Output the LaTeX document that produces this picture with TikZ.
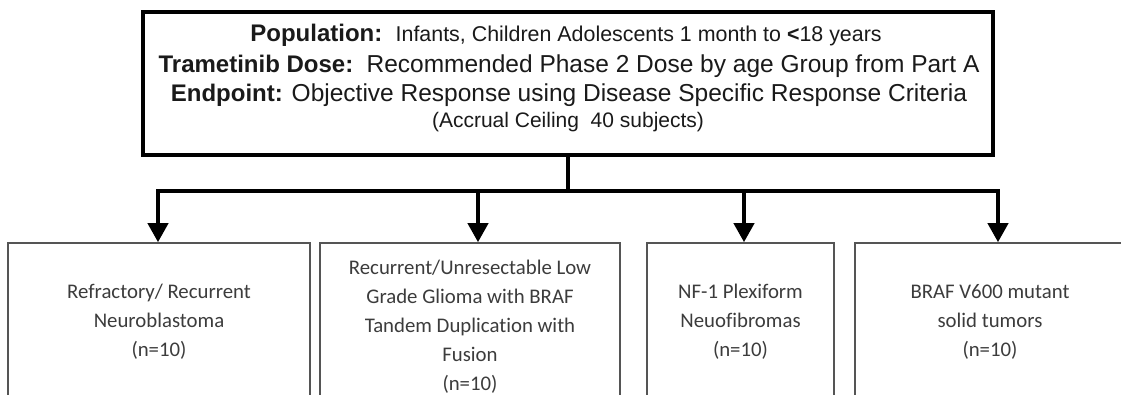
\documentclass[tikz,border=0pt]{standalone}
\usepackage{fontspec}
\setmainfont{Liberation Sans}
\newfontfamily\calibrifont[Ligatures={NoCommon}]{Carlito}
\usetikzlibrary{arrows.meta}
\definecolor{toptext}{HTML}{1A1A1A}
\definecolor{boxtext}{HTML}{3C3C3C}
\definecolor{boxline}{HTML}{555555}
\tikzset{
  topbox/.style={draw=black, line width=3.5pt, fill=white, minimum width=850pt, minimum height=143pt, inner sep=0pt},
  line/.style={text=toptext, anchor=base, inner sep=0pt},
  armbox/.style={draw=boxline, line width=1.6pt, fill=white, minimum height=157pt, inner sep=0pt,
    align=center, text=boxtext, font=\calibrifont\fontsize{20.8}{29}\selectfont},
  conn/.style={line width=4.5pt, black},
  arr/.style={line width=4pt, black, -{Triangle[width=20pt,length=19pt]}},
}
\begin{document}
\begin{tikzpicture}[x=1pt,y=-1pt]
\clip (0,0) rectangle (1121,394);
\fill[white] (0,0) rectangle (1121,394);
% top box
\node[topbox] (top) at (568,83.5) {};
\node[line] (l1) at (566,41) {\fontsize{24}{30}\selectfont\textbf{Population:}\ \ \fontsize{21.4}{30}\selectfont Infants, Children Adolescents 1 month to \textbf{<}18 years};
\node[line] (l2) at (569,72) {\fontsize{24}{30}\selectfont\textbf{Trametinib Dose:}\ \ \fontsize{24.5}{30}\selectfont Recommended Phase 2 Dose by age Group from Part A};
\node[line] (l3) at (569,101) {\fontsize{24}{30}\selectfont\textbf{Endpoint:} \fontsize{24.5}{30}\selectfont Objective Response using Disease Specific Response Criteria};
\node[line] (l4) at (568,127) {\fontsize{21}{26}\selectfont (Accrual Ceiling\ \ 40 subjects)};
% arm boxes
\node[armbox, minimum width=302pt] (b1) at (159,321.5) {Refractory/ Recurrent\\Neuroblastoma\\(n=10)};
\node[armbox, minimum width=300pt, minimum height=167pt] (b2) at (470,326.5) {Recurrent/Unresectable Low\\Grade Glioma with BRAF\\Tandem Duplication with\\Fusion\\(n=10)};
\node[armbox, minimum width=187pt] (b3) at (740.5,321.5) {NF-1 Plexiform\\Neuofibromas\\(n=10)};
\node[armbox, minimum width=270pt] (b4) at (990,321.5) {BRAF V600 mutant\\solid tumors\\(n=10)};
% connectors
\coordinate (bar) at (568,191);
\coordinate (a1) at (158,191);
\coordinate (a2) at (478,191);
\coordinate (a3) at (744,191);
\coordinate (a4) at (998,191);
\draw[conn] (top.south) -- (bar);
\draw[conn, line cap=rect] (a1) -- (a4);
\draw[arr] (a1) -- (a1 |- b1.north);
\draw[arr] (a2) -- (a2 |- b2.north);
\draw[arr] (a3) -- (a3 |- b3.north);
\draw[arr] (a4) -- (a4 |- b4.north);
\end{tikzpicture}
\end{document}
